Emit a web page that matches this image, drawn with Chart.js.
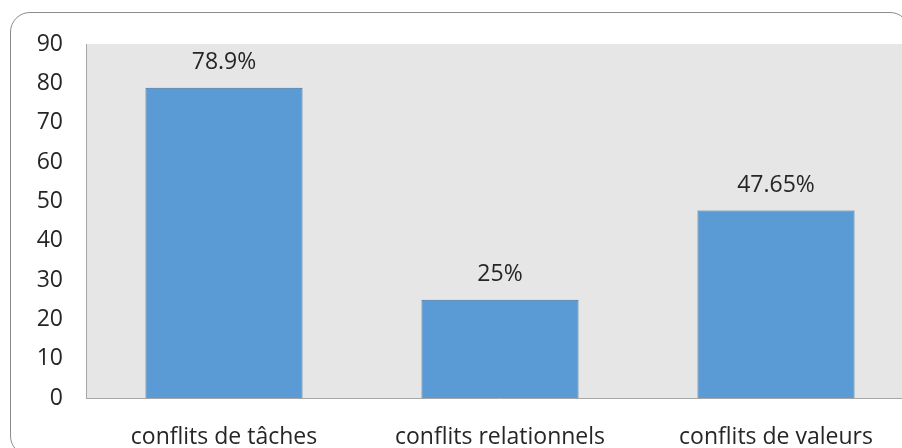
<!DOCTYPE html>
<html>
<head>
<meta charset="utf-8">
<script src="https://cdn.jsdelivr.net/npm/chart.js@4/dist/chart.umd.min.js"></script>
<style>
  html, body { margin: 0; padding: 0; background: #ffffff; overflow: hidden; }
  body { width: 902px; height: 448px; position: relative; }
  #frame {
    position: absolute; left: 10px; top: 12px; width: 900px; height: 444px;
    border: 1px solid #8c8c8c; border-radius: 20px; box-sizing: border-box;
  }
  #chart { position: absolute; left: 0; top: 0; }
</style>
</head>
<body>
<div id="frame"></div>
<canvas id="chart" width="914" height="448"></canvas>
<script>
// Types of conflict and their share
const categories = ["conflits de tâches", "conflits relationnels", "conflits de valeurs"];
const values = [78.9, 25, 47.65];
const yTicks = [0, 10, 20, 30, 40, 50, 60, 70, 80, 90];

const FONT = "'Open Sans', 'DejaVu Sans', sans-serif";
const TEXT = "#262626";
const SIZE = 23;

// Grey plot background behind the bars
const plotBackground = {
  id: "plotBackground",
  beforeDraw(chart) {
    const { ctx, chartArea: a } = chart;
    ctx.save();
    ctx.fillStyle = "#e6e6e6";
    ctx.fillRect(a.left, a.top, a.right - a.left, a.bottom - a.top);
    ctx.restore();
  }
};

// Percentage labels above each bar
const valueLabels = {
  id: "valueLabels",
  afterDatasetsDraw(chart) {
    const { ctx } = chart;
    const meta = chart.getDatasetMeta(0);
    ctx.save();
    ctx.font = SIZE + "px " + FONT;
    ctx.fillStyle = TEXT;
    ctx.textAlign = "center";
    ctx.textBaseline = "alphabetic";
    meta.data.forEach((bar, i) => {
      ctx.fillText(values[i] + "%", bar.x, bar.y - 19);
    });
    ctx.restore();
  }
};

new Chart(document.getElementById("chart"), {
  type: "bar",
  data: {
    labels: categories,
    datasets: [{
      data: values,
      backgroundColor: "#5b9bd5",
      borderColor: "#41719c",
      borderWidth: 1,
      barPercentage: 1,
      categoryPercentage: 0.569
    }]
  },
  options: {
    responsive: false,
    animation: false,
    layout: { padding: { top: 44, left: 0, right: 0, bottom: 0 } },
    plugins: { legend: { display: false }, tooltip: { enabled: false } },
    scales: {
      x: {
        grid: { display: false, drawTicks: false },
        border: { display: true, color: "#a6a6a6", width: 1 },
        ticks: { color: TEXT, font: { family: FONT, size: SIZE }, padding: 26, maxRotation: 0 },
        afterFit(scale) { scale.height = 50; }
      },
      y: {
        min: 0,
        max: 90,
        grid: { display: false, drawTicks: false },
        border: { display: true, color: "#a6a6a6", width: 1 },
        afterBuildTicks(scale) { scale.ticks = yTicks.map(v => ({ value: v })); },
        ticks: { color: TEXT, font: { family: FONT, size: SIZE }, padding: 23 },
        afterFit(scale) { scale.width = 86; }
      }
    }
  },
  plugins: [plotBackground, valueLabels]
});
</script>
</body>
</html>
